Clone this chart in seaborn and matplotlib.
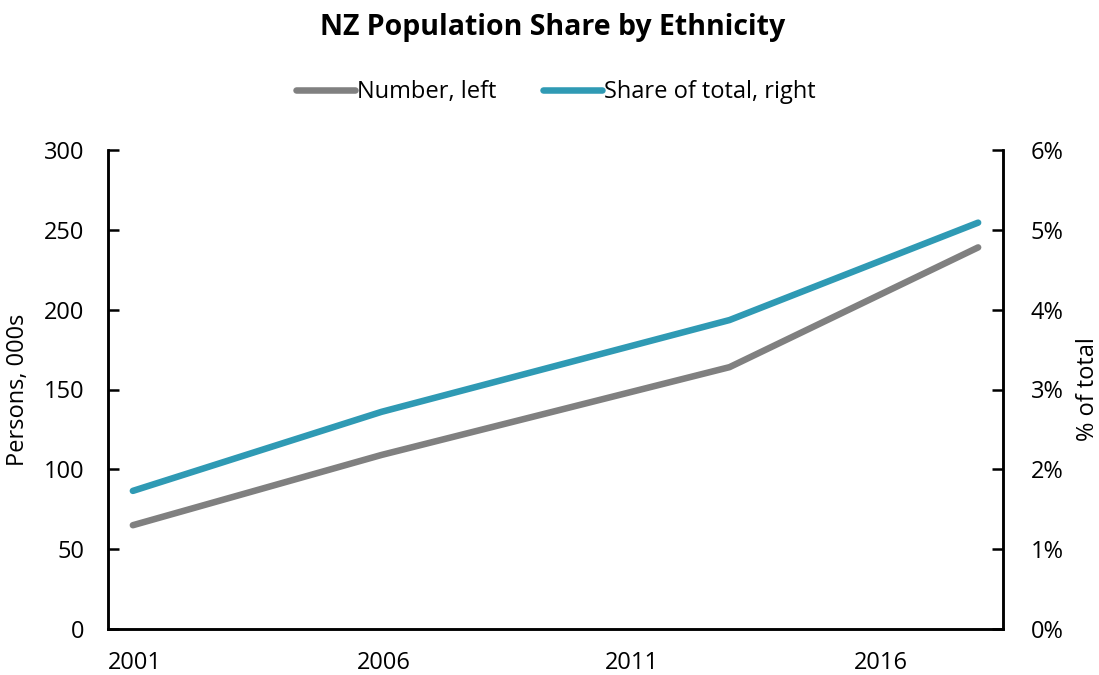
import matplotlib
matplotlib.use("Agg")
import matplotlib.pyplot as plt
import seaborn as sns
import pandas as pd
from matplotlib.ticker import FuncFormatter

# Data
years = [2001.5, 2006.5, 2013.5, 2018.5]
number_k = [65, 109, 164, 239]
share_pct = [1.73, 2.72, 3.87, 5.09]
xticks = [2001, 2006, 2011, 2016]

sns.set_style("white")
plt.rcParams['font.family'] = ['Open Sans', 'DejaVu Sans']
plt.rcParams['text.color'] = 'black'
plt.rcParams['axes.labelcolor'] = 'black'

gray = "#808080"
blue = "#2F9AB4"

fig = plt.figure(figsize=(10.99, 6.75), dpi=100)
ax = fig.add_axes([108/1099, 1-629/675, (1003-108)/1099, (629-150)/675])
ax2 = ax.twinx()

df = pd.DataFrame({"year": years, "number": number_k, "share": share_pct})
sns.lineplot(data=df, x="year", y="number", ax=ax, color=gray, linewidth=4.7,
             label="Number, left", legend=False, solid_capstyle="round")
sns.lineplot(data=df, x="year", y="share", ax=ax2, color=blue, linewidth=4.7,
             label="Share of total, right", legend=False, solid_capstyle="round")

ax.set_xlim(2001, 2019)
ax.set_ylim(0, 300)
ax2.set_ylim(0, 6)
ax.set_xticks(xticks)
ax.set_xticklabels([str(x) for x in xticks], ha="left")
ax.set_yticks(range(0, 301, 50))
ax2.set_yticks(range(0, 7))
ax2.yaxis.set_major_formatter(FuncFormatter(lambda v, p: f"{int(v)}%"))

for a in (ax, ax2):
    for s in a.spines.values():
        s.set_visible(False)
    for s in ('bottom', 'left', 'right'):
        a.spines[s].set_visible(True)
        a.spines[s].set_color("black")
        a.spines[s].set_linewidth(1.8)

fs = 17
ax.tick_params(axis='both', direction='in', length=8, width=1.8, labelsize=fs, colors="black")
ax.tick_params(axis='x', pad=16)
ax.tick_params(axis='y', pad=17)
ax2.tick_params(axis='y', direction='in', length=8, width=1.8, labelsize=fs, pad=20, colors="black")
for lbl in ax.get_xticklabels():
    lbl.set_horizontalalignment("left")

ax.set_xlabel("")
ax.set_ylabel("Persons, 000s", fontsize=fs)
ax2.set_ylabel("% of total", fontsize=fs)
ax.yaxis.set_label_coords((30 - 108) / 895, 0.5)
ax2.yaxis.set_label_coords((1076 - 108) / 895, 0.5)

fig.suptitle("NZ Population Share by Ethnicity", fontsize=20.5, fontweight="bold",
             y=1-28/675, va="center", x=553/1099)

h1, l1 = ax.get_legend_handles_labels()
h2, l2 = ax2.get_legend_handles_labels()
fig.legend(h1 + h2, l1 + l2, loc="center", bbox_to_anchor=(556/1099, 1-92/675), ncol=2,
           frameon=False, fontsize=fs, handlelength=2.5, handletextpad=0.1,
           columnspacing=1.95)

fig.savefig("out.png", dpi=100)
